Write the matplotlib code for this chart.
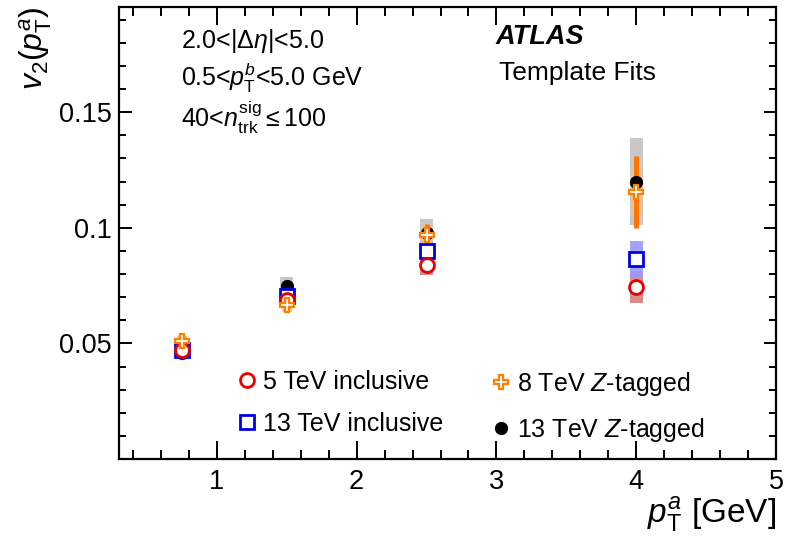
import numpy as np
import matplotlib
matplotlib.use("Agg")
import matplotlib.pyplot as plt
from matplotlib.ticker import MultipleLocator

plt.rcParams["font.family"] = ["Liberation Sans", "DejaVu Sans"]
plt.rcParams["mathtext.fontset"] = "custom"
plt.rcParams["mathtext.rm"] = "Liberation Sans"
plt.rcParams["mathtext.it"] = "Liberation Sans:italic"
plt.rcParams["mathtext.bf"] = "Liberation Sans:bold"

# pT^a bin centres [GeV]
pt = [0.75, 1.5, 2.5, 4.0]

# 5 TeV inclusive
v2_5 = [0.047, 0.0686, 0.0838, 0.0745]
sys_5 = [0.002, 0.003, 0.004, 0.007]
# 13 TeV inclusive
v2_13 = [0.047, 0.0705, 0.0900, 0.0865]
sys_13 = [0.002, 0.003, 0.004, 0.008]
# 8 TeV Z-tagged
v2_8z = [0.051, 0.0665, 0.0968, 0.1155]
sys_8z = [0.002, 0.003, 0.004, 0.010]
stat_8z = [0.002, 0.003, 0.005, 0.0155]
# 13 TeV Z-tagged
v2_13z = [0.046, 0.0748, 0.0978, 0.1200]
sys_13z = [0.002, 0.004, 0.006, 0.019]

labels = ["5 TeV inclusive", "13 TeV inclusive",
          "8 TeV $Z$-tagged", "13 TeV $Z$-tagged"]

fig = plt.figure(figsize=(8.02, 5.40), dpi=100)
ax = fig.add_axes([119 / 802, 1 - 459 / 540, 657 / 802, 452 / 540])

bw = 0.09
pt_a = np.array(pt)
# systematic bands
ax.bar(pt_a, 2 * np.array(sys_13z), bottom=np.array(v2_13z) - sys_13z,
       width=bw, color="#c8c8c8", zorder=1)
ax.bar(pt_a, 2 * np.array(sys_5), bottom=np.array(v2_5) - sys_5,
       width=bw, color="#cf7070", alpha=0.8, zorder=2)
ax.bar(pt_a, 2 * np.array(sys_13), bottom=np.array(v2_13) - sys_13,
       width=bw, color="#9999ff", alpha=0.9, zorder=2)
ax.bar(pt_a, 2 * np.array(sys_8z), bottom=np.array(v2_8z) - sys_8z,
       width=bw * 0.8, color="#ffbf80", alpha=0.9, zorder=3)
# orange stat bars
ax.errorbar(pt, v2_8z, yerr=stat_8z, fmt="none", ecolor="#ff7300",
            elinewidth=3.5, zorder=4)

h13z, = ax.plot(pt, v2_13z, "o", ls="none", color="black", ms=8.5, zorder=5)
h13, = ax.plot(pt, v2_13, "s", ls="none", mfc="white", mec="#0000e6",
               mew=2.0, ms=10, zorder=5)
h5, = ax.plot(pt, v2_5, "o", ls="none", mfc="white", mec="#e60000",
              mew=2.0, ms=10, zorder=6)
h8z, = ax.plot(pt, v2_8z, "P", ls="none", mfc="white", mec="#ff7f00",
               mew=1.6, ms=9.5, zorder=7)

ax.set_xlim(0.3, 5.0)
ax.set_ylim(0.0, 0.1955)
ax.xaxis.set_major_locator(MultipleLocator(1))
ax.xaxis.set_minor_locator(MultipleLocator(0.2))
ax.yaxis.set_major_locator(MultipleLocator(0.05))
ax.yaxis.set_minor_locator(MultipleLocator(0.01))
ax.set_xticks([1, 2, 3, 4, 5])
ax.set_xticklabels(["1", "2", "3", "4", "5"])
ax.set_yticks([0.05, 0.1, 0.15])
ax.set_yticklabels(["0.05", "0.1", "0.15"])
ax.tick_params(which="both", direction="in", top=True, right=True,
               labelsize=19.5, width=1.4)
ax.tick_params(axis="x", which="major", length=13, pad=7)
ax.tick_params(axis="x", which="minor", length=6.5)
ax.tick_params(axis="y", which="major", length=9, pad=5)
ax.tick_params(axis="y", which="minor", length=5)
for s in ax.spines.values():
    s.set_linewidth(1.6)

ax.set_xlabel(r"$p_{\mathrm{T}}^{a}$ [GeV]", fontsize=24, loc="right",
              labelpad=0)
ax.set_ylabel(r"$v_{2}(p_{\mathrm{T}}^{a})$", fontsize=23, loc="top",
              labelpad=4)

ax.text(0.095, 0.925, r"2.0<|$\Delta\eta$|<5.0", transform=ax.transAxes,
        fontsize=18, va="center")
ax.text(0.095, 0.843, r"0.5<$p_{\mathrm{T}}^{b}$<5.0 GeV",
        transform=ax.transAxes, fontsize=18, va="center")
ax.text(0.095, 0.755, r"40<$n_{\mathrm{trk}}^{\mathrm{sig}}$$\leq$100",
        transform=ax.transAxes, fontsize=18, va="center")
ax.text(0.573, 0.933, "ATLAS", transform=ax.transAxes, fontsize=19.5,
        fontweight="bold", fontstyle="italic", va="center")
ax.text(0.578, 0.855, "Template Fits", transform=ax.transAxes, fontsize=19,
        va="center")

leg1 = ax.legend([h5, h13], labels[:2], loc="upper left",
                 bbox_to_anchor=(0.168, 0.22), frameon=False, fontsize=18,
                 handlelength=0.6, handletextpad=0.35, labelspacing=0.72,
                 borderaxespad=0)
ax.add_artist(leg1)
ax.legend([h8z, h13z], labels[2:], loc="upper left",
          bbox_to_anchor=(0.555, 0.22), frameon=False, fontsize=18,
          handlelength=0.6, handletextpad=0.35, labelspacing=0.72,
          borderaxespad=0)

fig.savefig("out.png", dpi=100)
